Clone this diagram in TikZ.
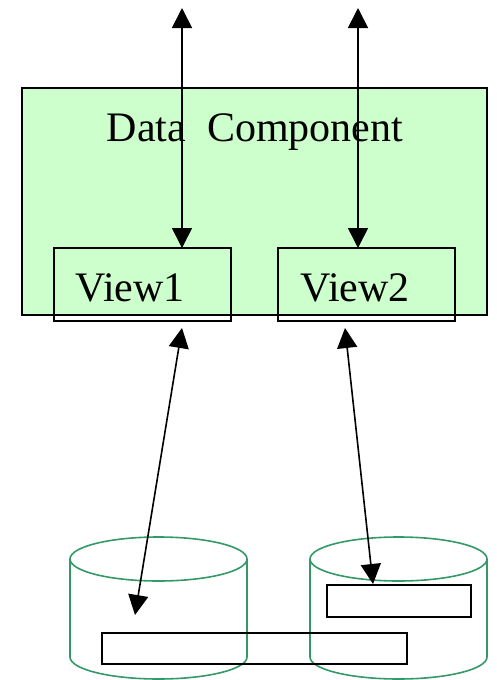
\documentclass[tikz,border=0pt]{standalone}
\usepackage{fontspec}
\setmainfont{Liberation Serif}
\usetikzlibrary{arrows.meta}
\definecolor{compfill}{HTML}{CCFFCC}
\definecolor{dbgreen}{HTML}{339966}
\begin{document}
\begin{tikzpicture}[x=1pt,y=-1pt,
  box/.style={draw=black,line width=1.7pt,rectangle,inner sep=0pt},
  lbl/.style={font=\fontsize{42}{50}\selectfont,inner sep=0pt,anchor=base},
  conn/.style={line width=1.6pt,{Triangle[width=20pt,length=20pt]}-{Triangle[width=20pt,length=20pt]}},
  db/.style={draw=dbgreen,line width=1.6pt}]
\useasboundingbox (0,0) rectangle (496,680);
% main component
\node[box,fill=compfill,minimum width=465pt,minimum height=227pt] (comp) at (254.5,201.5) {};
\node[lbl] (title) at (255,141) {Data\ \ Component};
% views
\node[box,minimum width=177pt,minimum height=73pt] (v1) at (142.5,284.5) {};
\node[box,minimum width=177pt,minimum height=73pt] (v2) at (366.5,284.5) {};
\node[lbl] (v1t) at (130,301) {View1};
\node[lbl] (v2t) at (355,301) {View2};
% cylinders
\draw[db] (70,559) arc[start angle=180,end angle=-180,x radius=88.5,y radius=22];
\draw[db] (70,559) -- (70,657) arc[start angle=180,end angle=0,x radius=88.5,y radius=22] -- (247,559);
\draw[db] (310,559) arc[start angle=180,end angle=-180,x radius=88.5,y radius=22];
\draw[db] (310,559) -- (310,657) arc[start angle=180,end angle=0,x radius=88.5,y radius=22] -- (487,559);
% records
\node[box,minimum width=305pt,minimum height=31pt] (ra) at (254.5,648.5) {};
\node[box,minimum width=144pt,minimum height=32pt] (rb) at (399,601) {};
% connector end points
\coordinate (t1) at (182,8);
\coordinate (t2) at (358,8);
\coordinate (v1top) at (182,248);
\coordinate (v2top) at (358,248);
\coordinate (v1bot) at (182,328);
\coordinate (v2bot) at (345,328);
\coordinate (d1) at (135,615);
\coordinate (d2) at (373,584);
\draw[conn] (t1) -- (v1top);
\draw[conn] (t2) -- (v2top);
\draw[conn] (v1bot) -- (d1);
\draw[conn] (v2bot) -- (d2);
\end{tikzpicture}
\end{document}
